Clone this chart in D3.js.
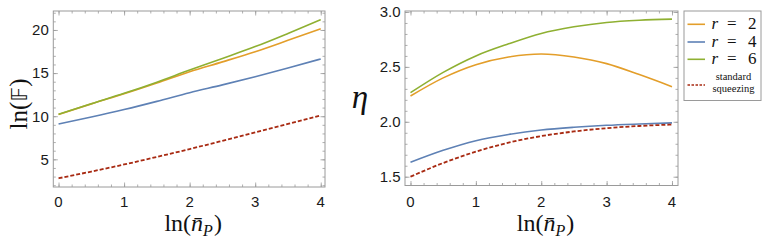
<!DOCTYPE html>
<html><head><meta charset="utf-8">
<script src="https://cdn.jsdelivr.net/npm/d3@7"></script>
<style>html,body{margin:0;padding:0;background:#fff;}svg{display:block;}</style>
</head><body>
<svg id="chart" width="763" height="241"></svg>
<script>
// ---- data ----
const lnN = [0, 0.5, 1, 1.5, 2, 2.5, 3, 3.5, 4];
const seriesNames = ["r = 2", "r = 4", "r = 6", "standard squeezing"];
// left panel: ln(F)
const lnF_r2 = [10.2, 11.43, 12.6, 13.85, 15.16, 16.3, 17.48, 18.8, 20.15];
const lnF_r4 = [9.09, 9.9, 10.77, 11.72, 12.73, 13.63, 14.58, 15.6, 16.64];
const lnF_r6 = [10.22, 11.45, 12.65, 13.95, 15.36, 16.7, 18.07, 19.6, 21.2];
const lnF_std = [2.8, 3.58, 4.4, 5.28, 6.19, 7.15, 8.13, 9.1, 10.1];
// right panel: eta
const eta_r2 = [2.235, 2.40, 2.52, 2.59, 2.617, 2.59, 2.53, 2.43, 2.32];
const eta_r4 = [1.631, 1.74, 1.828, 1.885, 1.925, 1.95, 1.968, 1.98, 1.99];
const eta_r6 = [2.265, 2.45, 2.60, 2.71, 2.805, 2.865, 2.905, 2.925, 2.935];
const eta_std = [1.50, 1.625, 1.728, 1.81, 1.87, 1.912, 1.942, 1.962, 1.975];
// ticks
const xTicks = [0, 1, 2, 3, 4];
const leftYTicks = [5, 10, 15, 20];
const rightYTicks = [1.5, 2.0, 2.5, 3.0];

const colors = ["#E39E2A", "#5E81B5", "#8FB032", "#A82A12"];
const frameColor = "#9a9a9a";
const serif = "Liberation Serif, Times New Roman, serif";
const svg = d3.select("#chart");

function panel(cfg) {
  const x = d3.scaleLinear().domain(cfg.xDom).range([cfg.x0, cfg.x1]);
  const y = d3.scaleLinear().domain(cfg.yDom).range([cfg.y1, cfg.y0]);
  const g = svg.append("g");
  const clipId = "clip" + cfg.id;
  svg.append("clipPath").attr("id", clipId).append("rect")
    .attr("x", cfg.x0).attr("y", cfg.y0).attr("width", cfg.x1 - cfg.x0).attr("height", cfg.y1 - cfg.y0);

  const xMinor = d3.range(0, 4.0001, 0.2);
  const yMinor = d3.range(cfg.minorStart, cfg.minorEnd + 1e-6, cfg.minorStep);
  const mk = (axis, ticks, len) => axis.tickValues(ticks).tickSizeInner(len).tickSizeOuter(0).tickFormat("");
  const addAxis = (axisGen, transform) => {
    const a = g.append("g").attr("transform", transform).call(axisGen);
    a.selectAll("path").remove();
    a.selectAll("line").attr("stroke", frameColor).attr("stroke-width", 0.8);
  };
  addAxis(mk(d3.axisTop(x), xMinor, 2.5), `translate(0,${cfg.y1})`);
  addAxis(mk(d3.axisTop(x), xTicks, 4.5), `translate(0,${cfg.y1})`);
  addAxis(mk(d3.axisBottom(x), xMinor, 2.5), `translate(0,${cfg.y0})`);
  addAxis(mk(d3.axisBottom(x), xTicks, 4.5), `translate(0,${cfg.y0})`);
  addAxis(mk(d3.axisRight(y), yMinor, 2.5), `translate(${cfg.x0},0)`);
  addAxis(mk(d3.axisRight(y), cfg.yTicks, 4.5), `translate(${cfg.x0},0)`);
  addAxis(mk(d3.axisLeft(y), yMinor, 2.5), `translate(${cfg.x1},0)`);
  addAxis(mk(d3.axisLeft(y), cfg.yTicks, 4.5), `translate(${cfg.x1},0)`);
  g.append("rect").attr("x", cfg.x0).attr("y", cfg.y0)
    .attr("width", cfg.x1 - cfg.x0).attr("height", cfg.y1 - cfg.y0)
    .attr("fill", "none").attr("stroke", frameColor).attr("stroke-width", 1);

  g.selectAll(".xl").data(xTicks).enter().append("text")
    .attr("x", d => x(d)).attr("y", 207).attr("text-anchor", "middle")
    .attr("font-family", "Liberation Sans, Arial, sans-serif").attr("font-size", 15)
    .attr("fill", "#1a1a1a").text(d => d);
  g.selectAll(".yl").data(cfg.yTicks).enter().append("text")
    .attr("x", cfg.x0 - 4.5).attr("y", d => y(d) + 5.3).attr("text-anchor", "end")
    .attr("font-family", "Liberation Sans, Arial, sans-serif").attr("font-size", 15)
    .attr("fill", "#1a1a1a").text(d => cfg.fmt(d));

  const line = d3.line().x(d => x(d[0])).y(d => y(d[1])).curve(d3.curveMonotoneX);
  cfg.series.forEach((s, i) => {
    g.append("path").attr("clip-path", `url(#${clipId})`)
      .attr("d", line(lnN.map((v, k) => [v, s[k]])))
      .attr("fill", "none").attr("stroke", colors[i])
      .attr("stroke-width", i === 3 ? 1.8 : 1.6)
      .attr("stroke-dasharray", i === 3 ? "4,2" : null);
  });

  const xt = g.append("text").attr("x", (cfg.x0 + cfg.x1) / 2 + 4).attr("y", 231)
    .attr("text-anchor", "middle").attr("font-family", serif)
    .attr("font-size", 24).attr("fill", "#111");
  xt.append("tspan").text("ln(");
  xt.append("tspan").attr("font-style", "italic").text("n\u0304");
  xt.append("tspan").attr("font-style", "italic").attr("font-size", 16).attr("dy", 5).text("P");
  xt.append("tspan").attr("dy", -5).attr("dx", 1).text(")");
  return {x, y, g};
}

panel({
  id: "L", x0: 53.3, x1: 325, y0: 11, y1: 187,
  xDom: [-0.08, 4.065], yDom: [1.79, 22.2],
  yTicks: leftYTicks, minorStart: 2, minorEnd: 22, minorStep: 1,
  fmt: d => d, series: [lnF_r2, lnF_r4, lnF_r6, lnF_std]
});
panel({
  id: "R", x0: 405, x1: 678, y0: 11, y1: 185.5,
  xDom: [-0.084, 4.092], yDom: [1.42, 3.009],
  yTicks: rightYTicks, minorStart: 1.5, minorEnd: 3.0, minorStep: 0.1,
  fmt: d => d.toFixed(1), series: [eta_r2, eta_r4, eta_r6, eta_std]
});

// y titles
const yt = svg.append("text").attr("transform", "translate(27,104) rotate(-90)")
  .attr("text-anchor", "middle").attr("font-family", serif)
  .attr("font-size", 25).attr("fill", "#111");
yt.append("tspan").text("ln(");
yt.append("tspan").attr("font-family", "DejaVu Sans, DejaVu Serif, serif").attr("font-size", 22).text("\uD835\uDD3D");
yt.append("tspan").text(")");
svg.append("text").attr("x", 360).attr("y", 108).attr("text-anchor", "middle")
  .attr("font-family", serif).attr("font-style", "italic")
  .attr("font-size", 33).attr("fill", "#111").text("η");

// legend
const lg = svg.append("g");
lg.append("rect").attr("x", 684).attr("y", 11).attr("width", 77).attr("height", 89.5)
  .attr("fill", "#fff").attr("stroke", frameColor).attr("stroke-width", 1);
const rowY = [24.3, 42, 59.3];
seriesNames.slice(0, 3).forEach((name, i) => {
  lg.append("line").attr("x1", 687.5).attr("x2", 705).attr("y1", rowY[i]).attr("y2", rowY[i])
    .attr("stroke", colors[i]).attr("stroke-width", 1.6);
  const parts = name.split(" ");
  const t = lg.append("text").attr("y", rowY[i] + 4.5).attr("font-family", serif)
    .attr("font-size", 17).attr("fill", "#111");
  t.append("tspan").attr("x", 711.5).attr("font-style", "italic").text(parts[0]);
  t.append("tspan").attr("x", 727).text(parts[1]);
  t.append("tspan").attr("x", 748).text(parts[2]);
});
lg.append("line").attr("x1", 687.5).attr("x2", 705).attr("y1", 85).attr("y2", 85)
  .attr("stroke", colors[3]).attr("stroke-width", 1.6).attr("stroke-dasharray", "2.5,1.5");
const st = seriesNames[3].split(" ");
st.forEach((w, i) => {
  lg.append("text").attr("x", 733.5).attr("y", i === 0 ? 80 : 91.5).attr("text-anchor", "middle")
    .attr("font-family", serif).attr("font-size", 10.5)
    .attr("fill", "#111").text(w);
});
</script>
</body></html>
